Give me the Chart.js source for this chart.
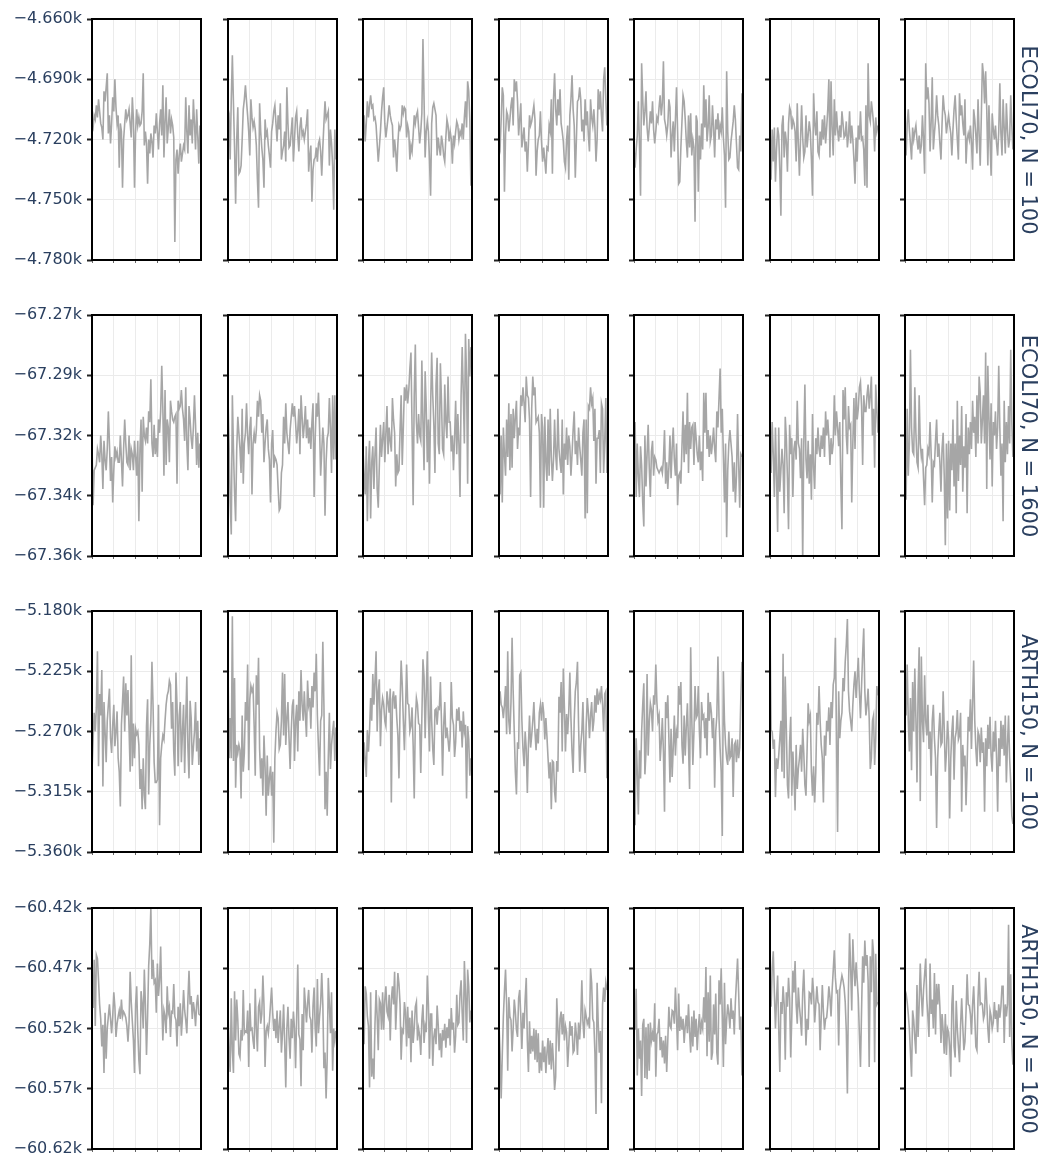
<!DOCTYPE html>
<html>
<head>
<meta charset="utf-8">
<script src="https://cdn.jsdelivr.net/npm/chart.js@4.4.1/dist/chart.umd.min.js"></script>
<style>
  body { margin: 0; background: #fff; width: 1042px; height: 1155px; overflow: hidden; position: relative; font-family: "DejaVu Sans", sans-serif; }
  canvas { position: absolute; }
  .row-label { position: absolute; writing-mode: vertical-rl; color: #2a3f5f; font-size: 21px; white-space: nowrap; transform: translate(-50%, -50%); }
</style>
</head>
<body>
<script>
// facet rows (top to bottom) and their y ticks
const rowNames = ['ECOLI70, N = 100', 'ECOLI70, N = 1600', 'ARTH150, N = 100', 'ARTH150, N = 1600'];
const rowTicks = [
  [-4780, -4750, -4720, -4690, -4660],
  [-67360, -67337.5, -67315, -67292.5, -67270],
  [-5360, -5315, -5270, -5225, -5180],
  [-60620, -60570, -60520, -60470, -60420]
];
const rowTickLabels = [
  ['−4.780k', '−4.750k', '−4.720k', '−4.690k', '−4.660k'],
  ['−67.36k', '−67.34k', '−67.32k', '−67.29k', '−67.27k'],
  ['−5.360k', '−5.315k', '−5.270k', '−5.225k', '−5.180k'],
  ['−60.62k', '−60.57k', '−60.52k', '−60.47k', '−60.42k']
];
const xTicks = [0, 20, 40, 60, 80];

// one list per run (7 runs per row)
const ecoli70N100 = [
  [-4712,-4714,-4708,-4710,-4703,-4709,-4700,-4706,-4712,-4714,
   -4720,-4696,-4701,-4694,-4687,-4717,-4708,-4722,-4712,-4699,
   -4706,-4690,-4704,-4712,-4708,-4734,-4712,-4716,-4744,-4720,
   -4712,-4705,-4710,-4708,-4705,-4712,-4719,-4699,-4710,-4744,
   -4716,-4705,-4713,-4709,-4713,-4712,-4706,-4687,-4723,-4716,
   -4722,-4742,-4720,-4727,-4717,-4721,-4729,-4713,-4717,-4707,
   -4716,-4725,-4712,-4705,-4718,-4693,-4729,-4711,-4699,-4722,
   -4714,-4705,-4717,-4710,-4713,-4719,-4771,-4730,-4725,-4737,
   -4728,-4722,-4731,-4727,-4723,-4725,-4699,-4716,-4727,-4703,
   -4718,-4710,-4722,-4700,-4712,-4725,-4705,-4718,-4732,-4713],
  [-4712,-4709,-4730,-4700,-4678,-4702,-4724,-4752,-4720,-4704,
   -4737,-4736,-4733,-4720,-4705,-4700,-4693,-4701,-4708,-4716,
   -4728,-4700,-4709,-4714,-4711,-4715,-4723,-4740,-4754,-4702,
   -4716,-4724,-4730,-4744,-4710,-4718,-4716,-4723,-4728,-4734,
   -4716,-4712,-4706,-4703,-4712,-4721,-4708,-4715,-4702,-4730,
   -4726,-4723,-4716,-4731,-4694,-4712,-4724,-4723,-4716,-4709,
   -4731,-4720,-4709,-4706,-4718,-4726,-4714,-4709,-4718,-4716,
   -4720,-4716,-4712,-4705,-4736,-4728,-4723,-4751,-4735,-4730,
   -4729,-4724,-4731,-4722,-4720,-4726,-4738,-4724,-4712,-4701,
   -4710,-4708,-4706,-4733,-4715,-4722,-4733,-4755,-4715,-4730],
  [-4714,-4708,-4721,-4712,-4701,-4709,-4703,-4698,-4704,-4703,
   -4710,-4709,-4713,-4722,-4731,-4724,-4716,-4706,-4699,-4694,
   -4712,-4719,-4714,-4709,-4703,-4708,-4711,-4713,-4729,-4720,
   -4726,-4736,-4722,-4713,-4715,-4713,-4703,-4707,-4704,-4705,
   -4719,-4713,-4716,-4730,-4723,-4726,-4718,-4708,-4712,-4708,
   -4706,-4714,-4722,-4716,-4707,-4670,-4700,-4729,-4716,-4711,
   -4716,-4730,-4748,-4712,-4704,-4702,-4705,-4708,-4728,-4719,
   -4724,-4728,-4718,-4722,-4728,-4731,-4719,-4710,-4713,-4721,
   -4716,-4720,-4732,-4718,-4722,-4716,-4711,-4713,-4720,-4716,
   -4718,-4712,-4720,-4709,-4701,-4714,-4691,-4696,-4710,-4743],
  [-4721,-4724,-4710,-4694,-4698,-4746,-4718,-4706,-4708,-4716,
   -4710,-4703,-4699,-4713,-4690,-4696,-4691,-4701,-4718,-4710,
   -4702,-4724,-4719,-4714,-4726,-4721,-4736,-4722,-4708,-4713,
   -4711,-4707,-4703,-4710,-4738,-4726,-4720,-4718,-4706,-4721,
   -4731,-4724,-4730,-4737,-4724,-4725,-4713,-4716,-4700,-4737,
   -4700,-4687,-4705,-4713,-4700,-4708,-4695,-4712,-4716,-4721,
   -4731,-4734,-4720,-4713,-4740,-4708,-4700,-4688,-4705,-4713,
   -4739,-4720,-4701,-4700,-4694,-4700,-4716,-4710,-4721,-4700,
   -4713,-4706,-4718,-4726,-4700,-4709,-4713,-4705,-4714,-4731,
   -4720,-4695,-4705,-4696,-4708,-4716,-4690,-4684,-4700,-4713],
  [-4724,-4734,-4725,-4718,-4701,-4722,-4748,-4682,-4700,-4713,
   -4706,-4696,-4714,-4721,-4714,-4706,-4712,-4701,-4715,-4722,
   -4716,-4709,-4711,-4704,-4698,-4708,-4702,-4681,-4710,-4713,
   -4718,-4713,-4700,-4704,-4729,-4718,-4711,-4726,-4710,-4694,
   -4716,-4742,-4741,-4724,-4711,-4698,-4701,-4710,-4721,-4729,
   -4708,-4724,-4707,-4728,-4720,-4724,-4761,-4708,-4711,-4746,
   -4718,-4730,-4712,-4725,-4693,-4714,-4700,-4721,-4714,-4698,
   -4721,-4718,-4703,-4714,-4729,-4710,-4715,-4707,-4720,-4713,
   -4716,-4704,-4719,-4728,-4754,-4686,-4716,-4730,-4729,-4721,
   -4716,-4711,-4703,-4710,-4722,-4734,-4735,-4718,-4726,-4697],
  [-4712,-4740,-4715,-4731,-4714,-4741,-4725,-4714,-4718,-4735,
   -4758,-4713,-4708,-4729,-4716,-4721,-4736,-4712,-4704,-4706,
   -4715,-4710,-4712,-4716,-4731,-4702,-4722,-4738,-4720,-4703,
   -4719,-4729,-4726,-4708,-4724,-4718,-4711,-4716,-4730,-4748,
   -4697,-4712,-4718,-4706,-4726,-4728,-4716,-4723,-4710,-4720,
   -4708,-4722,-4714,-4705,-4690,-4729,-4691,-4714,-4728,-4700,
   -4718,-4706,-4715,-4721,-4713,-4719,-4706,-4712,-4719,-4718,
   -4711,-4724,-4718,-4706,-4722,-4713,-4720,-4730,-4742,-4719,
   -4731,-4713,-4720,-4706,-4720,-4719,-4725,-4743,-4703,-4744,
   -4682,-4708,-4711,-4701,-4706,-4712,-4726,-4709,-4716,-4713],
  [-4720,-4728,-4712,-4705,-4715,-4722,-4730,-4714,-4720,-4716,
   -4713,-4720,-4725,-4718,-4727,-4723,-4708,-4720,-4737,-4682,
   -4700,-4694,-4702,-4726,-4711,-4689,-4725,-4717,-4710,-4698,
   -4708,-4713,-4722,-4730,-4712,-4698,-4705,-4708,-4717,-4712,
   -4708,-4713,-4717,-4728,-4715,-4705,-4698,-4710,-4720,-4730,
   -4697,-4708,-4703,-4712,-4718,-4700,-4732,-4720,-4717,-4720,
   -4713,-4722,-4735,-4705,-4710,-4718,-4727,-4700,-4717,-4733,
   -4709,-4682,-4688,-4702,-4686,-4705,-4733,-4703,-4720,-4738,
   -4707,-4715,-4720,-4713,-4722,-4728,-4716,-4692,-4717,-4728,
   -4700,-4714,-4727,-4702,-4715,-4724,-4720,-4698,-4713,-4725]
];

const ecoli70N1600 = [
  [-67318,-67341,-67328,-67327,-67326,-67320,-67322,-67325,-67315,-67322,
   -67335,-67317,-67324,-67328,-67320,-67306,-67318,-67332,-67323,-67340,
   -67328,-67319,-67323,-67321,-67325,-67325,-67315,-67324,-67334,-67320,
   -67309,-67318,-67325,-67326,-67315,-67328,-67320,-67322,-67328,-67317,
   -67323,-67330,-67317,-67347,-67320,-67309,-67336,-67308,-67315,-67317,
   -67312,-67318,-67306,-67310,-67294,-67318,-67323,-67311,-67322,-67316,
   -67323,-67309,-67314,-67306,-67289,-67305,-67330,-67298,-67326,-67309,
   -67312,-67325,-67302,-67306,-67309,-67310,-67308,-67307,-67333,-67302,
   -67305,-67304,-67298,-67305,-67309,-67317,-67297,-67318,-67328,-67304,
   -67309,-67316,-67320,-67312,-67300,-67311,-67326,-67314,-67327,-67318],
  [-67301,-67318,-67340,-67352,-67300,-67320,-67336,-67347,-67320,-67308,
   -67314,-67320,-67329,-67305,-67333,-67318,-67314,-67303,-67315,-67322,
   -67312,-67308,-67337,-67318,-67314,-67318,-67313,-67302,-67308,-67300,
   -67302,-67314,-67307,-67325,-67318,-67312,-67309,-67320,-67324,-67340,
   -67318,-67313,-67327,-67323,-67324,-67326,-67335,-67343,-67342,-67329,
   -67326,-67308,-67318,-67303,-67314,-67318,-67322,-67313,-67308,-67303,
   -67308,-67304,-67310,-67318,-67313,-67305,-67322,-67300,-67308,-67316,
   -67311,-67304,-67316,-67309,-67318,-67312,-67320,-67310,-67303,-67338,
   -67316,-67303,-67308,-67299,-67312,-67330,-67321,-67312,-67318,-67345,
   -67325,-67316,-67314,-67301,-67312,-67329,-67300,-67324,-67300,-67324],
  [-67320,-67330,-67337,-67319,-67347,-67326,-67317,-67346,-67325,-67319,
   -67335,-67322,-67312,-67335,-67342,-67326,-67311,-67323,-67316,-67310,
   -67325,-67314,-67304,-67322,-67312,-67317,-67321,-67301,-67309,-67314,
   -67334,-67322,-67329,-67328,-67313,-67300,-67326,-67312,-67297,-67302,
   -67296,-67303,-67298,-67290,-67284,-67312,-67341,-67300,-67281,-67310,
   -67318,-67307,-67315,-67317,-67287,-67310,-67328,-67291,-67304,-67325,
   -67309,-67333,-67305,-67284,-67300,-67311,-67329,-67296,-67286,-67318,
   -67322,-67288,-67302,-67320,-67322,-67296,-67310,-67316,-67293,-67310,
   -67310,-67321,-67315,-67328,-67316,-67302,-67322,-67307,-67318,-67338,
   -67300,-67282,-67299,-67318,-67277,-67293,-67333,-67279,-67293,-67282],
  [-67306,-67337,-67315,-67340,-67312,-67322,-67330,-67309,-67323,-67303,
   -67328,-67307,-67327,-67305,-67316,-67308,-67302,-67320,-67312,-67315,
   -67300,-67304,-67297,-67303,-67310,-67293,-67300,-67301,-67309,-67338,
   -67305,-67293,-67300,-67297,-67310,-67309,-67308,-67314,-67342,-67307,
   -67312,-67342,-67308,-67325,-67332,-67309,-67330,-67305,-67323,-67332,
   -67324,-67309,-67322,-67328,-67305,-67320,-67325,-67329,-67309,-67337,
   -67318,-67324,-67312,-67326,-67315,-67319,-67330,-67322,-67313,-67306,
   -67322,-67317,-67326,-67312,-67319,-67324,-67330,-67314,-67309,-67346,
   -67309,-67344,-67304,-67305,-67297,-67303,-67301,-67317,-67305,-67333,
   -67316,-67316,-67313,-67329,-67303,-67305,-67329,-67317,-67301,-67329],
  [-67323,-67310,-67338,-67318,-67330,-67338,-67319,-67326,-67340,-67349,
   -67315,-67334,-67322,-67311,-67327,-67338,-67321,-67317,-67330,-67323,
   -67324,-67327,-67328,-67329,-67328,-67327,-67329,-67324,-67313,-67333,
   -67325,-67335,-67327,-67315,-67331,-67320,-67312,-67324,-67330,-67318,
   -67341,-67330,-67329,-67333,-67319,-67306,-67325,-67311,-67322,-67299,
   -67329,-67310,-67320,-67312,-67311,-67326,-67310,-67316,-67322,-67325,
   -67315,-67328,-67321,-67332,-67299,-67314,-67299,-67320,-67313,-67323,
   -67315,-67322,-67318,-67312,-67320,-67325,-67306,-67312,-67301,-67290,
   -67314,-67305,-67323,-67340,-67318,-67353,-67328,-67318,-67313,-67318,
   -67323,-67336,-67325,-67340,-67330,-67307,-67325,-67342,-67322,-67323],
  [-67306,-67329,-67310,-67322,-67338,-67312,-67330,-67351,-67312,-67336,
   -67328,-67320,-67326,-67344,-67308,-67316,-67331,-67350,-67311,-67322,
   -67316,-67338,-67320,-67317,-67324,-67302,-67318,-67320,-67331,-67316,
   -67362,-67318,-67296,-67324,-67331,-67317,-67333,-67322,-67339,-67307,
   -67327,-67335,-67316,-67322,-67312,-67320,-67323,-67315,-67320,-67312,
   -67323,-67306,-67315,-67309,-67316,-67326,-67316,-67322,-67318,-67300,
   -67315,-67306,-67312,-67319,-67310,-67333,-67350,-67298,-67309,-67297,
   -67315,-67322,-67304,-67312,-67311,-67340,-67318,-67301,-67320,-67299,
   -67309,-67305,-67297,-67295,-67304,-67326,-67300,-67306,-67306,-67300,
   -67296,-67305,-67300,-67293,-67315,-67305,-67327,-67296,-67305,-67314],
  [-67323,-67339,-67305,-67330,-67318,-67283,-67312,-67321,-67322,-67297,
   -67314,-67325,-67327,-67300,-67318,-67323,-67320,-67331,-67341,-67327,
   -67326,-67320,-67322,-67310,-67322,-67340,-67325,-67326,-67317,-67309,
   -67323,-67318,-67325,-67336,-67320,-67314,-67330,-67356,-67318,-67346,
   -67317,-67343,-67318,-67328,-67309,-67334,-67318,-67344,-67302,-67332,
   -67315,-67326,-67304,-67336,-67319,-67327,-67307,-67344,-67312,-67322,
   -67310,-67320,-67302,-67314,-67308,-67323,-67300,-67318,-67293,-67299,
   -67318,-67309,-67300,-67318,-67284,-67335,-67289,-67308,-67324,-67303,
   -67334,-67310,-67315,-67306,-67320,-67312,-67289,-67312,-67330,-67318,
   -67347,-67302,-67325,-67310,-67322,-67304,-67318,-67283,-67310,-67323]
];

const arth150N100 = [
  [-5300,-5276,-5256,-5270,-5252,-5210,-5296,-5242,-5258,-5224,
   -5311,-5248,-5270,-5293,-5262,-5250,-5238,-5275,-5286,-5265,
   -5250,-5281,-5270,-5255,-5290,-5300,-5326,-5265,-5248,-5229,
   -5270,-5234,-5258,-5239,-5268,-5300,-5213,-5296,-5264,-5290,
   -5268,-5272,-5270,-5280,-5313,-5298,-5328,-5290,-5318,-5328,
   -5266,-5246,-5317,-5280,-5262,-5218,-5250,-5293,-5308,-5308,
   -5306,-5250,-5340,-5290,-5280,-5273,-5276,-5262,-5250,-5243,
   -5240,-5232,-5235,-5268,-5248,-5285,-5303,-5226,-5250,-5296,
   -5258,-5248,-5293,-5270,-5250,-5301,-5262,-5229,-5282,-5305,
   -5247,-5260,-5295,-5282,-5270,-5248,-5285,-5262,-5295,-5275],
  [-5222,-5290,-5260,-5290,-5184,-5292,-5230,-5312,-5280,-5286,
   -5280,-5284,-5320,-5258,-5300,-5286,-5248,-5262,-5220,-5299,
   -5246,-5236,-5240,-5237,-5266,-5303,-5228,-5250,-5215,-5283,
   -5305,-5290,-5318,-5273,-5296,-5333,-5288,-5318,-5305,-5296,
   -5318,-5300,-5353,-5290,-5270,-5256,-5260,-5283,-5280,-5262,
   -5226,-5273,-5227,-5280,-5260,-5248,-5275,-5298,-5270,-5251,
   -5246,-5292,-5262,-5250,-5285,-5240,-5262,-5224,-5250,-5262,
   -5240,-5258,-5274,-5232,-5250,-5245,-5268,-5236,-5252,-5226,
   -5240,-5212,-5258,-5282,-5303,-5262,-5258,-5203,-5250,-5328,
   -5300,-5333,-5290,-5256,-5298,-5280,-5270,-5262,-5292,-5267],
  [-5305,-5278,-5290,-5304,-5269,-5285,-5270,-5245,-5262,-5227,
   -5250,-5232,-5210,-5270,-5240,-5231,-5281,-5254,-5245,-5250,
   -5262,-5266,-5240,-5248,-5256,-5238,-5323,-5246,-5240,-5253,
   -5243,-5260,-5273,-5305,-5250,-5217,-5235,-5262,-5284,-5255,
   -5220,-5249,-5250,-5270,-5266,-5252,-5280,-5320,-5262,-5245,
   -5250,-5264,-5265,-5301,-5260,-5216,-5229,-5275,-5242,-5210,
   -5260,-5285,-5229,-5262,-5283,-5295,-5254,-5253,-5265,-5252,
   -5253,-5233,-5262,-5303,-5266,-5248,-5275,-5267,-5276,-5285,
   -5274,-5233,-5260,-5265,-5289,-5278,-5253,-5262,-5252,-5270,
   -5262,-5282,-5255,-5270,-5265,-5320,-5266,-5276,-5303,-5290],
  [-5253,-5240,-5250,-5252,-5260,-5250,-5236,-5272,-5210,-5262,
   -5272,-5248,-5200,-5240,-5270,-5300,-5317,-5278,-5283,-5228,
   -5226,-5262,-5283,-5296,-5270,-5283,-5316,-5280,-5258,-5282,
   -5273,-5262,-5248,-5270,-5284,-5268,-5279,-5256,-5250,-5262,
   -5248,-5256,-5276,-5260,-5274,-5290,-5305,-5293,-5328,-5292,
   -5293,-5315,-5323,-5292,-5300,-5244,-5256,-5233,-5285,-5223,
   -5252,-5285,-5257,-5272,-5255,-5226,-5260,-5285,-5301,-5262,
   -5240,-5233,-5218,-5265,-5300,-5280,-5270,-5248,-5284,-5301,
   -5265,-5245,-5256,-5275,-5258,-5248,-5270,-5262,-5243,-5256,
   -5238,-5250,-5242,-5246,-5236,-5250,-5270,-5242,-5240,-5305],
  [-5238,-5340,-5275,-5300,-5332,-5284,-5305,-5270,-5250,-5234,
   -5302,-5285,-5227,-5288,-5263,-5249,-5254,-5270,-5243,-5250,
   -5220,-5248,-5262,-5258,-5292,-5278,-5260,-5285,-5330,-5248,
   -5260,-5243,-5275,-5308,-5268,-5304,-5282,-5258,-5288,-5270,
   -5275,-5236,-5250,-5233,-5280,-5294,-5258,-5288,-5266,-5249,
   -5280,-5313,-5207,-5260,-5295,-5270,-5236,-5260,-5258,-5236,
   -5270,-5290,-5248,-5260,-5258,-5275,-5260,-5288,-5241,-5262,
   -5248,-5256,-5275,-5260,-5312,-5270,-5258,-5214,-5260,-5283,
   -5300,-5348,-5225,-5262,-5280,-5290,-5295,-5270,-5290,-5288,
   -5275,-5319,-5280,-5278,-5293,-5276,-5290,-5282,-5245,-5218],
  [-5190,-5269,-5270,-5283,-5276,-5319,-5290,-5298,-5288,-5275,
   -5262,-5300,-5212,-5305,-5229,-5268,-5310,-5320,-5278,-5259,
   -5318,-5285,-5304,-5329,-5280,-5313,-5298,-5290,-5280,-5300,
   -5268,-5286,-5310,-5318,-5285,-5249,-5262,-5258,-5300,-5318,
   -5296,-5323,-5300,-5256,-5265,-5236,-5262,-5280,-5290,-5323,
   -5273,-5288,-5262,-5270,-5252,-5280,-5248,-5260,-5235,-5230,
   -5200,-5270,-5345,-5240,-5275,-5262,-5256,-5230,-5240,-5218,
   -5205,-5186,-5240,-5255,-5262,-5270,-5250,-5235,-5225,-5245,
   -5230,-5215,-5240,-5260,-5236,-5212,-5193,-5240,-5258,-5250,
   -5238,-5260,-5298,-5290,-5262,-5258,-5295,-5275,-5236,-5243],
  [-5225,-5258,-5220,-5261,-5285,-5245,-5299,-5233,-5270,-5223,
   -5260,-5308,-5240,-5207,-5322,-5214,-5262,-5278,-5228,-5262,
   -5273,-5250,-5283,-5270,-5303,-5262,-5250,-5275,-5290,-5342,
   -5290,-5270,-5256,-5280,-5278,-5240,-5268,-5300,-5286,-5262,
   -5276,-5335,-5290,-5270,-5258,-5306,-5275,-5270,-5254,-5276,
   -5273,-5256,-5330,-5280,-5296,-5288,-5325,-5296,-5259,-5270,
   -5246,-5283,-5248,-5217,-5262,-5283,-5296,-5270,-5273,-5293,
   -5267,-5286,-5278,-5330,-5275,-5296,-5265,-5283,-5259,-5288,
   -5300,-5270,-5285,-5262,-5290,-5330,-5275,-5296,-5262,-5283,
   -5265,-5288,-5258,-5308,-5280,-5258,-5290,-5308,-5333,-5339]
];

const arth150N1600 = [
  [-60496,-60503,-60463,-60518,-60459,-60462,-60480,-60500,-60512,-60535,
   -60517,-60557,-60507,-60545,-60520,-60510,-60500,-60512,-60524,-60510,
   -60490,-60502,-60527,-60516,-60510,-60505,-60512,-60496,-60510,-60506,
   -60508,-60511,-60518,-60531,-60515,-60473,-60498,-60514,-60530,-60557,
   -60500,-60485,-60522,-60546,-60558,-60489,-60499,-60520,-60471,-60500,
   -60542,-60510,-60468,-60450,-60420,-60479,-60463,-60482,-60480,-60507,
   -60466,-60493,-60480,-60452,-60498,-60530,-60505,-60510,-60524,-60485,
   -60507,-60502,-60527,-60506,-60507,-60483,-60510,-60513,-60535,-60502,
   -60518,-60499,-60526,-60510,-60488,-60505,-60513,-60524,-60496,-60472,
   -60500,-60493,-60512,-60498,-60505,-60518,-60500,-60492,-60508,-60509],
  [-60508,-60540,-60556,-60495,-60538,-60557,-60489,-60530,-60496,-60513,
   -60541,-60544,-60521,-60530,-60488,-60524,-60522,-60523,-60505,-60552,
   -60499,-60521,-60520,-60530,-60537,-60487,-60520,-60539,-60502,-60498,
   -60516,-60508,-60476,-60500,-60552,-60522,-60518,-60524,-60514,-60500,
   -60486,-60507,-60522,-60512,-60528,-60505,-60532,-60518,-60505,-60540,
   -60524,-60500,-60531,-60569,-60520,-60502,-60528,-60545,-60512,-60528,
   -60506,-60520,-60553,-60510,-60467,-60525,-60529,-60568,-60508,-60538,
   -60486,-60500,-60515,-60499,-60488,-60510,-60513,-60540,-60501,-60486,
   -60520,-60535,-60479,-60524,-60510,-60499,-60474,-60500,-60553,-60540,
   -60578,-60545,-60478,-60500,-60524,-60490,-60555,-60520,-60530,-60522],
  [-60495,-60533,-60485,-60491,-60510,-60518,-60569,-60490,-60560,-60545,
   -60562,-60516,-60488,-60510,-60538,-60496,-60499,-60521,-60490,-60521,
   -60496,-60485,-60506,-60510,-60492,-60530,-60496,-60485,-60500,-60473,
   -60521,-60498,-60474,-60483,-60500,-60546,-60521,-60523,-60498,-60507,
   -60535,-60502,-60528,-60511,-60548,-60505,-60532,-60520,-60502,-60498,
   -60530,-60520,-60526,-60542,-60513,-60500,-60532,-60518,-60523,-60476,
   -60500,-60545,-60508,-60508,-60551,-60527,-60520,-60533,-60501,-60517,
   -60538,-60524,-60544,-60521,-60530,-60516,-60536,-60519,-60528,-60512,
   -60534,-60503,-60521,-60515,-60540,-60526,-60492,-60517,-60515,-60491,
   -60480,-60507,-60530,-60464,-60490,-60532,-60471,-60485,-60515,-60505],
  [-60516,-60540,-60578,-60542,-60510,-60489,-60471,-60500,-60555,-60494,
   -60510,-60513,-60539,-60520,-60496,-60506,-60521,-60527,-60495,-60488,
   -60510,-60537,-60507,-60520,-60496,-60478,-60530,-60556,-60514,-60541,
   -60526,-60539,-60520,-60546,-60521,-60548,-60524,-60557,-60540,-60555,
   -60530,-60548,-60535,-60557,-60540,-60528,-60550,-60530,-60554,-60532,
   -60548,-60571,-60560,-60495,-60520,-60539,-60512,-60506,-60525,-60508,
   -60530,-60518,-60523,-60552,-60535,-60514,-60526,-60518,-60540,-60538,
   -60515,-60525,-60542,-60515,-60529,-60513,-60480,-60514,-60528,-60505,
   -60510,-60516,-60513,-60520,-60470,-60482,-60512,-60515,-60540,-60591,
   -60482,-60515,-60540,-60522,-60582,-60500,-60486,-60498,-60482,-60488],
  [-60510,-60521,-60487,-60559,-60520,-60545,-60530,-60576,-60517,-60512,
   -60561,-60519,-60562,-60516,-60555,-60515,-60530,-60524,-60531,-60499,
   -60560,-60525,-60523,-60512,-60538,-60527,-60544,-60530,-60549,-60526,
   -60556,-60530,-60502,-60518,-60520,-60505,-60506,-60516,-60486,-60510,
   -60538,-60491,-60522,-60510,-60521,-60512,-60532,-60518,-60509,-60524,
   -60500,-60523,-60540,-60510,-60535,-60505,-60527,-60512,-60538,-60520,
   -60508,-60525,-60515,-60520,-60494,-60515,-60469,-60543,-60490,-60531,
   -60476,-60546,-60540,-60500,-60525,-60491,-60540,-60550,-60480,-60500,
   -60470,-60508,-60552,-60482,-60533,-60513,-60500,-60508,-60520,-60495,
   -60512,-60505,-60525,-60498,-60480,-60462,-60490,-60521,-60510,-60559],
  [-60477,-60502,-60470,-60456,-60490,-60520,-60496,-60476,-60520,-60556,
   -60498,-60508,-60485,-60500,-60546,-60490,-60502,-60478,-60495,-60544,
   -60510,-60472,-60490,-60464,-60500,-60516,-60486,-60502,-60512,-60526,
   -60490,-60471,-60500,-60534,-60512,-60521,-60490,-60491,-60500,-60478,
   -60490,-60515,-60500,-60485,-60498,-60500,-60538,-60510,-60484,-60506,
   -60521,-60512,-60511,-60500,-60485,-60494,-60510,-60488,-60472,-60455,
   -60478,-60490,-60489,-60534,-60488,-60482,-60476,-60480,-60486,-60498,
   -60522,-60574,-60487,-60441,-60470,-60505,-60446,-60470,-60485,-60465,
   -60480,-60494,-60525,-60552,-60505,-60460,-60482,-60447,-60468,-60459,
   -60480,-60552,-60460,-60490,-60446,-60458,-60548,-60458,-60500,-60498],
  [-60488,-60491,-60498,-60508,-60520,-60540,-60560,-60505,-60513,-60528,
   -60541,-60484,-60527,-60500,-60466,-60492,-60510,-60488,-60475,-60462,
   -60496,-60510,-60527,-60466,-60508,-60496,-60520,-60474,-60525,-60483,
   -60500,-60483,-60502,-60532,-60508,-60522,-60541,-60508,-60542,-60520,
   -60523,-60535,-60560,-60500,-60484,-60535,-60544,-60497,-60520,-60535,
   -60548,-60517,-60495,-60518,-60538,-60531,-60506,-60475,-60500,-60501,
   -60508,-60525,-60500,-60485,-60510,-60535,-60538,-60495,-60473,-60500,
   -60499,-60500,-60512,-60508,-60478,-60497,-60520,-60532,-60505,-60510,
   -60520,-60515,-60498,-60512,-60505,-60523,-60500,-60511,-60502,-60485,
   -60485,-60532,-60500,-60510,-60500,-60434,-60527,-60475,-60532,-60550]
];

const rows = [ecoli70N100, ecoli70N1600, arth150N100, arth150N1600];
const steps = ecoli70N100[0].map((_, i) => i);

Chart.defaults.font.family = '"DejaVu Sans", sans-serif';

const PLOT_W = 109, PLOT_H = 241;
const colLeft = [92, 228, 363, 499, 634, 770, 905];
const rowTop = [19, 315, 611, 908];
const PAD_TOP = 12, PAD_RIGHT = 4, X_AXIS_H = 10;

const frame = {
  id: 'frame',
  afterDraw(chart) {
    const { ctx, chartArea: a } = chart;
    ctx.save();
    ctx.strokeStyle = '#000';
    ctx.lineWidth = 2;
    ctx.strokeRect(a.left, a.top, a.right - a.left, a.bottom - a.top);
    ctx.restore();
  }
};

rows.forEach((runs, r) => {
  const ticks = rowTicks[r];
  const labels = rowTickLabels[r];
  runs.forEach((vals, c) => {
    const padL = c === 0 ? 92 : 12;
    const w = padL + PLOT_W + PAD_RIGHT;
    const h = PAD_TOP + PLOT_H + X_AXIS_H;
    const canvas = document.createElement('canvas');
    canvas.width = w;
    canvas.height = h;
    canvas.style.width = w + 'px';
    canvas.style.height = h + 'px';
    canvas.style.left = (colLeft[c] - padL) + 'px';
    canvas.style.top = (rowTop[r] - PAD_TOP) + 'px';
    document.body.appendChild(canvas);

    new Chart(canvas, {
      type: 'line',
      data: {
        labels: steps,
        datasets: [{
          data: vals,
          borderColor: '#a6a6a6',
          borderWidth: 1.6,
          pointRadius: 0,
          tension: 0,
          fill: false
        }]
      },
      options: {
        responsive: false,
        animation: false,
        layout: { padding: { top: PAD_TOP, right: PAD_RIGHT, left: 0, bottom: 0 } },
        plugins: { legend: { display: false }, tooltip: { enabled: false } },
        scales: {
          x: {
            type: 'linear',
            min: 0,
            max: 100,
            afterBuildTicks: s => { s.ticks = xTicks.map(v => ({ value: v })); },
            afterFit: s => { s.height = X_AXIS_H; s.paddingLeft = 0; s.paddingRight = 0; },
            ticks: { display: false },
            grid: { color: '#ebebeb', tickColor: '#666', tickLength: 3, tickWidth: 1 },
            border: { display: false }
          },
          y: {
            type: 'linear',
            min: ticks[0],
            max: ticks[4],
            afterBuildTicks: s => { s.ticks = ticks.map(v => ({ value: v })); },
            afterFit: s => { s.width = padL; s.paddingTop = 0; s.paddingBottom = 0; },
            ticks: {
              display: c === 0,
              padding: 5,
              color: '#2a3f5f',
              font: { size: 16 },
              callback: (v, i) => labels[i]
            },
            grid: { color: '#ebebeb', tickColor: '#222', tickLength: 5, tickWidth: 2 },
            border: { display: false }
          }
        }
      },
      plugins: [frame]
    });
  });

  const lab = document.createElement('div');
  lab.className = 'row-label';
  lab.textContent = rowNames[r];
  lab.style.left = '1029px';
  lab.style.top = (rowTop[r] + PLOT_H / 2) + 'px';
  document.body.appendChild(lab);
});
</script>
</body>
</html>
